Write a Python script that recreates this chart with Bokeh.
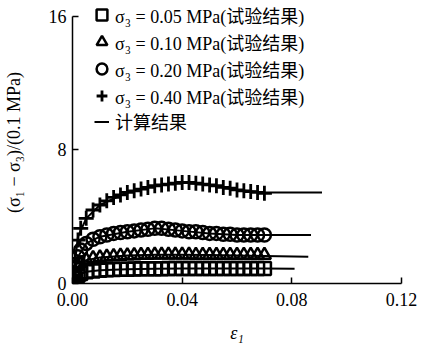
from bokeh.plotting import figure
from bokeh.models import Legend, LegendItem, FixedTicker, CustomJSTickFormatter
from bokeh.embed import file_html
from bokeh.resources import INLINE

# strain values of the test points
eps = [0.0, 0.001, 0.002, 0.003, 0.005, 0.0075, 0.01, 0.0125, 0.015, 0.0175,
       0.02, 0.0225, 0.025, 0.0275, 0.03, 0.0325, 0.035, 0.0375, 0.04, 0.0425,
       0.045, 0.0475, 0.05, 0.0525, 0.055, 0.0575, 0.06, 0.0625, 0.065, 0.0675, 0.07]

# test results (sigma1 - sigma3)/(0.1 MPa)
s005 = [0.0, 0.3, 0.5, 0.6, 0.7, 0.75, 0.8, 0.82, 0.84, 0.85, 0.86, 0.87, 0.88, 0.88,
        0.89, 0.89, 0.9, 0.9, 0.9, 0.9, 0.9, 0.9, 0.9, 0.9, 0.9, 0.9, 0.9, 0.9, 0.9, 0.9, 0.9]
s010 = [0.0, 0.6, 1.0, 1.2, 1.4, 1.5, 1.55, 1.6, 1.62, 1.65, 1.67, 1.68, 1.7, 1.7,
        1.72, 1.72, 1.72, 1.72, 1.72, 1.72, 1.7, 1.7, 1.7, 1.7, 1.7, 1.7, 1.7, 1.7, 1.7, 1.7, 1.7]
s020 = [0.0, 0.9, 1.6, 2.0, 2.4, 2.65, 2.8, 2.9, 3.0, 3.05, 3.1, 3.15, 3.2, 3.25,
        3.3, 3.3, 3.25, 3.2, 3.15, 3.1, 3.1, 3.05, 3.0, 3.0, 2.95, 2.95, 2.9, 2.9, 2.9, 2.9, 2.9]
s040 = [0.0, 1.5, 2.6, 3.3, 3.9, 4.4, 4.7, 4.95, 5.15, 5.3, 5.45, 5.55, 5.65, 5.75,
        5.85, 5.9, 5.95, 6.0, 6.05, 6.05, 6.0, 5.95, 5.9, 5.85, 5.75, 5.7, 5.6, 5.55, 5.5, 5.45, 5.4]

# calculated curves
c005_x = [0.0, 0.002, 0.005, 0.01, 0.02, 0.03, 0.04, 0.05, 0.06, 0.07, 0.081]
c005_y = [0.0, 0.5, 0.7, 0.8, 0.86, 0.89, 0.9, 0.9, 0.9, 0.9, 0.88]
c010_x = [0.0, 0.002, 0.005, 0.01, 0.02, 0.03, 0.04, 0.05, 0.06, 0.07, 0.086]
c010_y = [0.0, 1.0, 1.4, 1.55, 1.67, 1.72, 1.72, 1.7, 1.68, 1.65, 1.6]
c020_x = [0.0, 0.002, 0.005, 0.01, 0.02, 0.03, 0.04, 0.05, 0.06, 0.07, 0.087]
c020_y = [0.0, 1.6, 2.4, 2.8, 3.1, 3.3, 3.15, 3.0, 2.9, 2.9, 2.9]
c040_x = [0.0, 0.002, 0.005, 0.01, 0.02, 0.03, 0.04, 0.05, 0.06, 0.07, 0.08, 0.091]
c040_y = [0.0, 2.8, 3.9, 4.7, 5.45, 5.85, 6.05, 5.9, 5.6, 5.45, 5.45, 5.45]

x_ticks = [0.0, 0.04, 0.08, 0.12]
y_ticks = [0, 8, 16]

labels = ["σ₃ = 0.05 MPa(试验结果)", "σ₃ = 0.10 MPa(试验结果)",
          "σ₃ = 0.20 MPa(试验结果)", "σ₃ = 0.40 MPa(试验结果)", "计算结果"]

FONT = "Liberation Serif, Noto Sans CJK SC"

p = figure(width=422, height=345, output_backend="svg", toolbar_location=None,
           x_range=(0, 0.12), y_range=(0, 16.88),
           min_border_left=70, min_border_right=21, min_border_top=1, min_border_bottom=57)
p.outline_line_color = None
p.grid.visible = False
p.background_fill_color = "white"
p.border_fill_color = "white"

lines = p.multi_line(xs=[c005_x, c010_x, c020_x, c040_x], ys=[c005_y, c010_y, c020_y, c040_y],
                     line_color="black", line_width=2)
r1 = p.scatter(eps, s005, marker="square", size=13, line_color="black", line_width=2.5, fill_alpha=0)
r2 = p.scatter(eps, s010, marker="triangle", size=13, line_color="black", line_width=2.5, fill_alpha=0)
r3 = p.scatter(eps, s020, marker="circle", size=13, line_color="black", line_width=2.5, fill_alpha=0)
r4 = p.scatter(eps, s040, marker="cross", size=15, line_color="black", line_width=2.8)

for ax in (p.xaxis[0], p.yaxis[0]):
    ax.axis_line_width = 1.5
    ax.axis_line_color = "black"
    ax.major_tick_line_color = "black"
    ax.major_tick_line_width = 1.5
    ax.major_tick_in = 6
    ax.major_tick_out = 0
    ax.minor_tick_line_color = None
    ax.major_label_text_font = FONT
    ax.major_label_text_font_size = "18px"
    ax.major_label_text_color = "black"
    ax.axis_label_text_font = FONT
    ax.axis_label_text_font_size = "18px"
    ax.axis_label_text_color = "black"

p.xaxis.ticker = FixedTicker(ticks=x_ticks)
p.xaxis.formatter = CustomJSTickFormatter(code="return tick.toFixed(2);")
p.yaxis.ticker = FixedTicker(ticks=y_ticks)
p.yaxis.bounds = (0, 16)
p.xaxis.axis_label = "ε₁"
p.xaxis.axis_label_text_font_style = "italic"
p.xaxis.axis_label_standoff = 14
p.xaxis.major_label_standoff = 9
p.yaxis.axis_label = "(σ₁ − σ₃)/(0.1 MPa)"
p.yaxis.axis_label_text_font_style = "normal"
p.yaxis.axis_label_standoff = 22
p.yaxis.major_label_standoff = 6

common = dict(orientation="vertical", background_fill_alpha=0, border_line_color=None,
              padding=0, margin=0, label_text_font=FONT, label_text_font_size="18px",
              label_text_color="black")

legend_pts = Legend(items=[LegendItem(label=labels[0], renderers=[r1]),
                           LegendItem(label=labels[1], renderers=[r2]),
                           LegendItem(label=labels[2], renderers=[r3]),
                           LegendItem(label=labels[3], renderers=[r4])],
                    location=(16, 174), spacing=0, glyph_width=27, glyph_height=27,
                    label_height=27, label_standoff=0, **common)
legend_line = Legend(items=[LegendItem(label=labels[4], renderers=[lines])],
                     location=(22, 149), spacing=0, glyph_width=15, glyph_height=21,
                     label_height=21, label_standoff=6, **common)
p.add_layout(legend_pts, "center")
p.add_layout(legend_line, "center")

open("out.html", "w").write(file_html(p, INLINE))
